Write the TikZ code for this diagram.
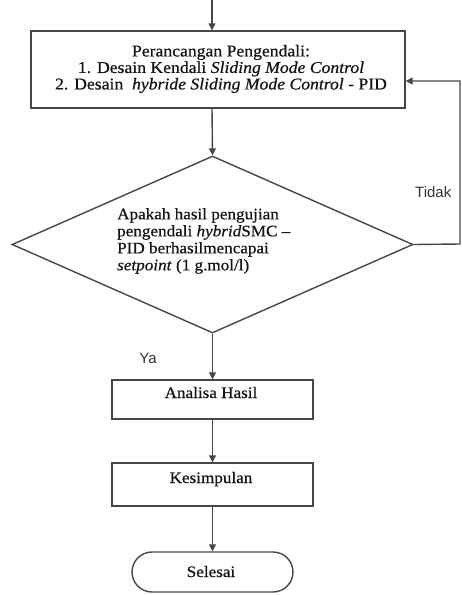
\documentclass[tikz,border=0pt]{standalone}
\usepackage{fontspec}
\setmainfont{Liberation Serif}[FakeStretch=1.07,FakeBold=0.6]
\newfontfamily\labelfont{Liberation Sans}
\usetikzlibrary{shapes.geometric,arrows.meta}
\begin{document}
\begin{tikzpicture}[x=1pt,y=-1pt,
  line/.style={draw=black!72,line width=1.4pt},
  arr/.style={line,-{Triangle[length=7pt,width=7pt]}},
  procbox/.style={line,rectangle,inner sep=0pt,fill=white},
  txt/.style={font=\fontsize{16}{17}\selectfont,text=black!92,inner sep=0pt},
  bigtxt/.style={font=\fontsize{16.5}{16.5}\selectfont,text=black!92,inner sep=0pt},
  lbl/.style={font=\labelfont\fontsize{15}{16}\selectfont,text=black!80,inner sep=0pt}]
\useasboundingbox (0,0) rectangle (461,595);
\coordinate (start) at (212,0);
\node[procbox,minimum width=374pt,minimum height=77pt] (b1) at (218,69.5) {};
\node[bigtxt,align=center] (b1t) at (221,69) {Perancangan Pengendali:\\1. Desain Kendali \textit{Sliding Mode Control}\\2. Desain \ \textit{hybride Sliding Mode Control} - PID};
\node[line,diamond,minimum width=401pt,minimum height=177pt,inner sep=0pt] (dia) at (212.5,244.5) {};
\node[txt,align=left,anchor=north west] (diat) at (117,208) {Apakah hasil pengujian\\pengendali \textit{hybrid}SMC --\\PID berhasilmencapai\\\textit{setpoint} (1 g.mol/l)};
\node[procbox,minimum width=201pt,minimum height=39pt] (b2) at (212.5,399.5) {};
\node[txt,anchor=base] (b2t) at (211,398) {Analisa Hasil};
\node[procbox,minimum width=201pt,minimum height=43pt] (b3) at (212.5,484.5) {};
\node[txt,anchor=base] (b3t) at (211,483) {Kesimpulan};
\node[procbox,rounded corners=20pt,minimum width=161pt,minimum height=40pt] (end) at (212.5,572) {};
\node[txt,anchor=base] (endt) at (211,577) {Selesai};
\node[lbl,anchor=west] (tidak) at (415,192) {Tidak};
\node[lbl] (ya) at (148,358) {Ya};
\coordinate (c1) at (460,244);
\coordinate (c2) at (460,81);
\draw[arr] (start) -- (start |- b1.north);
\draw[arr] (start |- b1.south) -- (dia.north);
\draw[arr] (dia.south) -- (dia.south |- b2.north);
\draw[arr] (dia.south |- b2.south) -- (dia.south |- b3.north);
\draw[arr] (dia.south |- b3.south) -- (dia.south |- end.north);
\draw[arr] (dia.east) -- (c1) -- (c2) -- (c2 -| b1.east);
\end{tikzpicture}
\end{document}
